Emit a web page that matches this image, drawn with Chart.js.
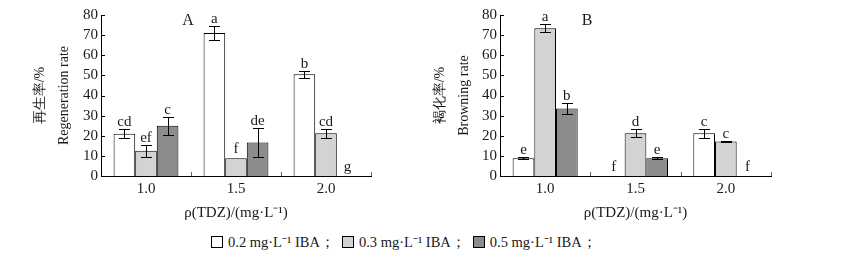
<!DOCTYPE html>
<html>
<head>
<meta charset="utf-8">
<script src="https://cdn.jsdelivr.net/npm/chart.js@4.4.1/dist/chart.umd.min.js"></script>
<style>
    body { margin: 0; background: #fff; }
    #wrap { position: relative; width: 858px; height: 260px; font-family: "Liberation Serif", serif; }
    #chartA { position: absolute; left: 0; top: 0; }
    #chartB { position: absolute; left: 400px; top: 0; }
    #legend { position: absolute; left: 211px; top: 231px; font-size: 14.5px; color: #1a1a1a; white-space: nowrap; }
    .item { margin-right: 7px; }
    .sw { display: inline-block; width: 10px; height: 10px; border: 1px solid #000; vertical-align: -1px; margin-right: 5px; }
</style>
</head>
<body>
<div id="wrap">
    <canvas id="chartA" width="400" height="225"></canvas>
    <canvas id="chartB" width="458" height="225"></canvas>
    <div id="legend"></div>
</div>
<script>
const categories = ['1.0', '1.5', '2.0'];
const seriesNames = ['0.2 mg·L⁻¹ IBA', '0.3 mg·L⁻¹ IBA', '0.5 mg·L⁻¹ IBA'];
const seriesColours = ['#ffffff', '#d3d3d3', '#8c8c8c'];
const yTicks = { min: 0, max: 80, step: 10 };

// A: regeneration rate (%)
const regen02 = [21, 71, 50.5];
const regen03 = [12.5, 8.8, 21.2];
const regen05 = [25, 16.7, 0];
const regenErr02 = [2.3, 3.4, 1.8];
const regenErr03 = [3, 0, 2.1];
const regenErr05 = [4.5, 7.3, 0];
const regenLetters02 = ['cd', 'a', 'b'];
const regenLetters03 = ['ef', 'f', 'cd'];
const regenLetters05 = ['c', 'de', 'g'];

// B: browning rate (%)
const brown02 = [8.8, 0, 21.2];
const brown03 = [73.4, 21.2, 17.2];
const brown05 = [33.6, 8.8, 0];
const brownErr02 = [0.5, 0, 2.3];
const brownErr03 = [2, 2, 0.4];
const brownErr05 = [2.7, 0.4, 0];
const brownLetters02 = ['e', 'f', 'c'];
const brownLetters03 = ['a', 'd', 'c'];
const brownLetters05 = ['b', 'e', 'f'];

const serif = '"Liberation Serif", "Times New Roman", serif';
const textColour = '#1a1a1a';

// error bars, letters, inward ticks and panel label
const marksPlugin = {
    id: 'marks',
    afterDatasetsDraw(chart) {
        const cfg = chart.options.plugins.marks;
        const { ctx, chartArea, scales: { x, y } } = chart;
        ctx.save();
        ctx.strokeStyle = '#000';
        ctx.lineWidth = 1;

        // y ticks point into the plot
        y.ticks.forEach(t => {
            const py = Math.round(y.getPixelForValue(t.value)) + 0.5;
            ctx.beginPath();
            ctx.moveTo(chartArea.left, py);
            ctx.lineTo(chartArea.left + 4, py);
            ctx.stroke();
        });

        // small ticks between categories
        const half = (x.getPixelForValue(1) - x.getPixelForValue(0)) / 2;
        ctx.strokeStyle = '#666';
        categories.forEach((c, i) => {
            const px = Math.round(x.getPixelForValue(i) + half) + 0.5;
            ctx.beginPath();
            ctx.moveTo(px, chartArea.bottom);
            ctx.lineTo(px, chartArea.bottom - 4);
            ctx.stroke();
        });

        ctx.font = '15px ' + serif;
        ctx.fillStyle = textColour;
        ctx.textAlign = 'center';
        ctx.textBaseline = 'alphabetic';
        ctx.strokeStyle = '#000';

        chart.data.datasets.forEach((ds, i) => {
            const meta = chart.getDatasetMeta(i);
            meta.data.forEach((bar, j) => {
                const v = ds.data[j];
                const e = cfg.errors[i][j];
                let top = y.getPixelForValue(v);
                if (e > 0) {
                    const yHi = Math.round(y.getPixelForValue(v + e)) + 0.5;
                    const yLo = Math.round(y.getPixelForValue(v - e)) + 0.5;
                    const bx = Math.round(bar.x) + 0.5;
                    ctx.beginPath();
                    ctx.moveTo(bx, yHi); ctx.lineTo(bx, yLo);
                    ctx.moveTo(bx - 5.5, yHi); ctx.lineTo(bx + 5.5, yHi);
                    ctx.moveTo(bx - 5.5, yLo); ctx.lineTo(bx + 5.5, yLo);
                    ctx.stroke();
                    top = yHi - 4;
                } else {
                    top = top - 5;
                }
                ctx.fillText(cfg.letters[i][j], bar.x, top);
            });
        });

        ctx.font = '16px ' + serif;
        ctx.fillText(cfg.panel, chartArea.left + 87, chartArea.top + 10);
        ctx.restore();
    }
};

function buildChart(canvasId, panel, yTitle, sets, errors, letters, yWidth, padRight) {
    const ctx = document.getElementById(canvasId).getContext('2d');
    return new Chart(ctx, {
        type: 'bar',
        data: {
            labels: categories,
            datasets: sets.map((d, i) => ({
                label: seriesNames[i],
                data: d,
                backgroundColor: seriesColours[i],
                borderColor: '#000',
                borderWidth: 1,
                categoryPercentage: 0.72,
                barPercentage: 1
            }))
        },
        options: {
            responsive: false,
            animation: false,
            layout: { padding: { top: 15, right: padRight, left: 0, bottom: 0 } },
            plugins: {
                legend: { display: false },
                tooltip: { enabled: false },
                marks: { panel: panel, errors: errors, letters: letters }
            },
            scales: {
                x: {
                    grid: { display: false, drawTicks: false },
                    border: { display: true, color: '#000', width: 1 },
                    ticks: { color: textColour, font: { family: serif, size: 15 }, padding: 4 },
                    title: {
                        display: true,
                        text: 'ρ(TDZ)/(mg·L⁻¹)',
                        color: textColour,
                        font: { family: serif, size: 15 },
                        padding: { top: 0, bottom: 3 }
                    },
                    afterFit: s => { s.height = 49; }
                },
                y: {
                    min: yTicks.min,
                    max: yTicks.max,
                    grid: { display: false, drawTicks: false },
                    border: { display: true, color: '#000', width: 1 },
                    ticks: {
                        stepSize: yTicks.step,
                        autoSkip: false,
                        color: textColour,
                        font: { family: serif, size: 15 },
                        padding: 3
                    },
                    title: {
                        display: true,
                        text: yTitle,
                        color: textColour,
                        font: { family: serif, size: 14, lineHeight: '24px' },
                        padding: { top: 28, bottom: 0 }
                    },
                    afterFit: s => { s.width = yWidth; }
                }
            }
        },
        plugins: [marksPlugin]
    });
}

buildChart('chartA', 'A', ['再生率/%', 'Regeneration rate'],
    [regen02, regen03, regen05],
    [regenErr02, regenErr03, regenErr05],
    [regenLetters02, regenLetters03, regenLetters05], 101, 29);

buildChart('chartB', 'B', ['褐化率/%', 'Browning rate'],
    [brown02, brown03, brown05],
    [brownErr02, brownErr03, brownErr05],
    [brownLetters02, brownLetters03, brownLetters05], 100, 87);

// legend below both panels
const legend = document.getElementById('legend');
seriesNames.forEach((name, i) => {
    const item = document.createElement('span');
    item.className = 'item';
    const sw = document.createElement('span');
    sw.className = 'sw';
    sw.style.background = seriesColours[i];
    item.appendChild(sw);
    item.appendChild(document.createTextNode(name + '；'));
    legend.appendChild(item);
});
</script>
</body>
</html>
